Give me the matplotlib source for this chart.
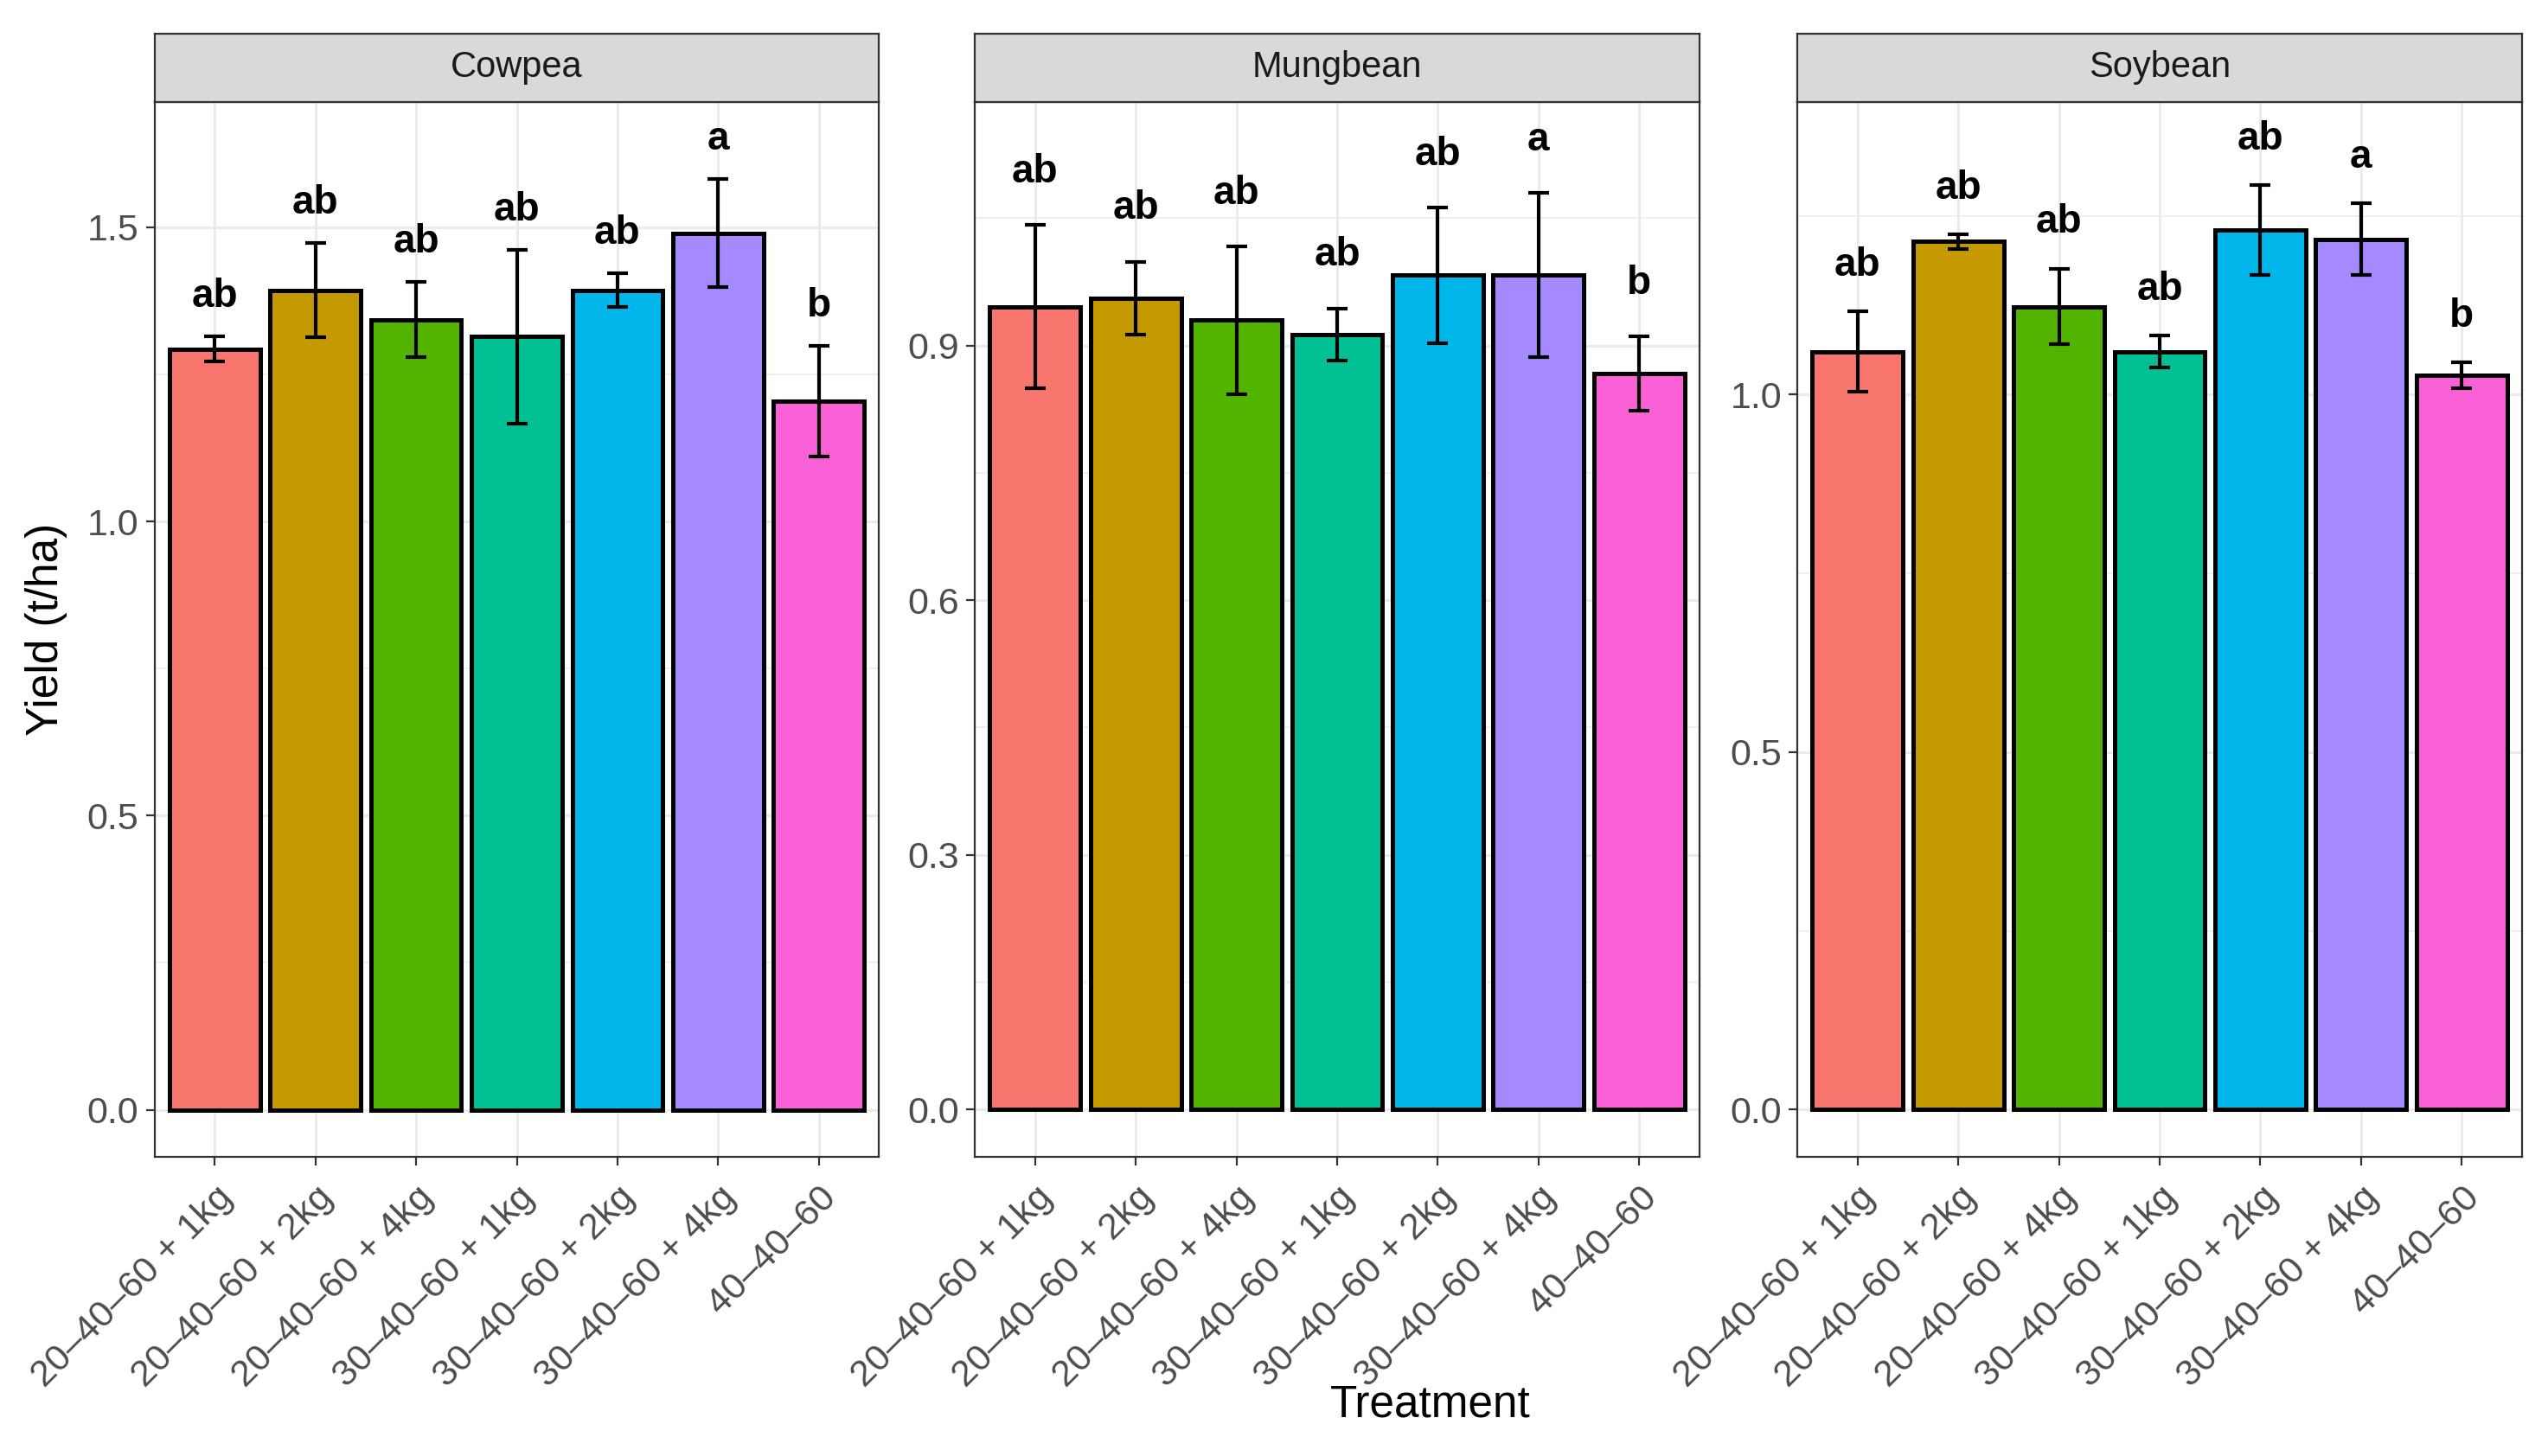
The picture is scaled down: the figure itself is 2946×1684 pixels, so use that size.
import numpy as np
import matplotlib
matplotlib.use("Agg")
import matplotlib.pyplot as plt

plt.rcParams["font.family"] = ["Liberation Sans", "DejaVu Sans"]

# ─── Data ────────────────────────────────────────────────────────────────
TREATMENTS = ["20–40–60 + 1kg", "20–40–60 + 2kg", "20–40–60 + 4kg",
              "30–40–60 + 1kg", "30–40–60 + 2kg", "30–40–60 + 4kg",
              "40–40–60"]
CROPS = ["Cowpea", "Mungbean", "Soybean"]

cowpea_mean = [1.293, 1.393, 1.343, 1.314, 1.393, 1.490, 1.204]
cowpea_se = [0.021, 0.080, 0.064, 0.148, 0.029, 0.092, 0.094]
cowpea_letters = ["ab", "ab", "ab", "ab", "ab", "a", "b"]

mungbean_mean = [0.946, 0.956, 0.930, 0.913, 0.983, 0.983, 0.867]
mungbean_se = [0.096, 0.043, 0.087, 0.031, 0.080, 0.097, 0.044]
mungbean_letters = ["ab", "ab", "ab", "ab", "ab", "a", "b"]

soybean_mean = [1.060, 1.214, 1.123, 1.060, 1.230, 1.217, 1.027]
soybean_se = [0.056, 0.010, 0.053, 0.022, 0.063, 0.050, 0.018]
soybean_letters = ["ab", "ab", "ab", "ab", "ab", "a", "b"]

cowpea_ticks = [0.0, 0.5, 1.0, 1.5]
mungbean_ticks = [0.0, 0.3, 0.6, 0.9]
soybean_ticks = [0.0, 0.5, 1.0]

# ─── Style ───────────────────────────────────────────────────────────────
COLORS = ["#F8766D", "#C49A00", "#53B400", "#00C094", "#00B6EB", "#A58AFF", "#FB61D7"]
GRID = "#EBEBEB"
DARK = "#333333"
TICK_TXT = "#4D4D4D"

panels = [
    (cowpea_mean, cowpea_se, cowpea_letters, cowpea_ticks, (-0.08, 1.713)),
    (mungbean_mean, mungbean_se, mungbean_letters, mungbean_ticks, (-0.056, 1.187)),
    (soybean_mean, soybean_se, soybean_letters, soybean_ticks, (-0.066, 1.409)),
]

W, H = 2946, 1684
fig = plt.figure(figsize=(W / 200, H / 200), dpi=200)

lefts = [178.5, 1127, 2078]
pw = 838
top_px, bot_px, strip_top_px = 118, 1338, 39

x = np.arange(len(TREATMENTS))

for (crop, (mean, se, letters, ticks, ylim)), lx in zip(zip(CROPS, panels), lefts):
    ax = fig.add_axes([lx / W, 1 - bot_px / H, pw / W, (bot_px - top_px) / H])

    # grid (ticks first, then limits, so minor ticks don't stretch the view)
    ax.set_axisbelow(True)
    ax.set_yticks(ticks)
    ax.set_yticks([t + (ticks[1] - ticks[0]) / 2 for t in ticks], minor=True)
    ax.grid(True, which="major", color=GRID, linewidth=1.1)
    ax.grid(True, which="minor", axis="y", color=GRID, linewidth=0.55)

    ax.bar(x, mean, width=0.9, color=COLORS, edgecolor="black", linewidth=1.8, zorder=2)
    ax.errorbar(x, mean, yerr=se, fmt="none", ecolor="black", elinewidth=1.5,
                capsize=4.2, capthick=1.5, zorder=3)
    for xi, m, s, lab in zip(x, mean, se, letters):
        ax.text(xi, m + s + 0.05, lab, ha="center", va="baseline",
                fontsize=16.5, fontweight="bold", color="black", zorder=4)

    ax.set_xticks(x)
    ax.set_xticklabels(TREATMENTS, rotation=45, ha="right", rotation_mode="anchor",
                       fontsize=15.5, color=TICK_TXT)
    ax.set_yticklabels([f"{t:.1f}" for t in ticks], fontsize=15.5, color=TICK_TXT)
    ax.tick_params(axis="both", which="major", length=3.5, width=0.8, color=DARK, pad=3)
    ax.tick_params(axis="x", pad=6)
    ax.tick_params(axis="y", which="minor", length=0)
    for sp in ax.spines.values():
        sp.set_color(DARK)
        sp.set_linewidth(0.8)

    ax.set_xlim(-0.6, 6.6)
    ax.set_ylim(*ylim)

    # facet strip
    sax = fig.add_axes([lx / W, 1 - top_px / H, pw / W, (top_px - strip_top_px) / H])
    sax.set_xticks([])
    sax.set_yticks([])
    sax.set_facecolor("#D9D9D9")
    for sp in sax.spines.values():
        sp.set_color(DARK)
        sp.set_linewidth(0.8)
    sax.text(0.5, 0.5, crop, ha="center", va="center", fontsize=15, color="#1A1A1A",
             transform=sax.transAxes)

fig.text(53 / W, 1 - 728 / H, "Yield (t/ha)", rotation=90, ha="center", va="center",
         fontsize=18.5, color="black")
fig.text(1654 / W, 1 - 1625 / H, "Treatment", ha="center", va="center",
         fontsize=18.5, color="black")

fig.savefig("out.png", dpi=200, facecolor="white")
